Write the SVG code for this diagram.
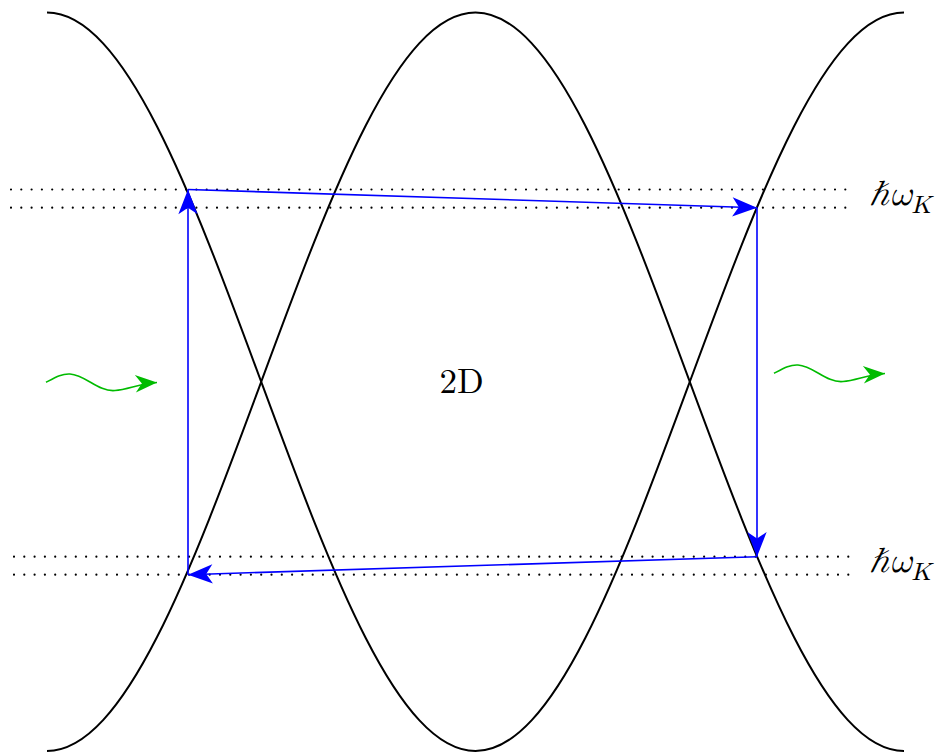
<svg xmlns="http://www.w3.org/2000/svg" width="942" height="754" viewBox="0 0 942 754">
<style>
.curve{fill:none;stroke:#000;stroke-width:2}
.dot{fill:none;stroke:#000;stroke-width:2.2;stroke-linecap:round;stroke-dasharray:0 10.3}
.blue{fill:none;stroke:#0000ff;stroke-width:1.6;marker-end:url(#bh)}
.green{fill:none;stroke:#00bb00;stroke-width:1.6;marker-end:url(#gh)}
.lbl{font-family:"Latin Modern Math","Liberation Serif","DejaVu Serif",serif;font-size:35px;fill:#000}
</style>
<defs>
<marker id="bh" markerUnits="userSpaceOnUse" markerWidth="30" markerHeight="30" viewBox="-24 -12 28 24" refX="0" refY="0" orient="auto">
<path d="M0,0 L-23,-9 L-17,0 L-23,9 Z" fill="#0000ff"/>
</marker>
<marker id="gh" markerUnits="userSpaceOnUse" markerWidth="26" markerHeight="26" viewBox="-22 -11 24 22" refX="0" refY="0" orient="auto">
<path d="M0,0 L-20,-8 L-14,0 L-20,8 Z" fill="#00bb00"/>
</marker>
</defs>
<g id="curves">
<path id="curveA" class="curve" d="M47,12.5 C124.5,12.5 191.2,192.7 261.2,381.8 C331.2,570.9 397.5,751 475.5,751 C553.5,751 619.8,570.9 689.8,381.8 C759.8,192.7 826.5,12.5 904,12.5"/>
<path id="curveB" class="curve" d="M47,751 C124.5,751 191.2,570.9 261.2,381.8 C331.2,192.7 397.5,12.5 475.5,12.5 C553.5,12.5 619.8,192.7 689.8,381.8 C759.8,570.9 826.5,751 904,751"/>
</g>
<g id="levels">
<line class="dot" x1="11" y1="189.5" x2="853" y2="189.5"/>
<line class="dot" x1="11" y1="207.7" x2="853" y2="207.7"/>
<line class="dot" x1="14" y1="556.7" x2="855" y2="556.7"/>
<line class="dot" x1="14" y1="574.7" x2="855" y2="574.7"/>
</g>
<g id="label-top"><text class="lbl" x="869" y="205"><tspan font-style="italic">ℏω</tspan><tspan font-style="italic" font-size="25" dy="8">K</tspan></text></g>
<g id="label-bottom"><text class="lbl" x="869" y="572"><tspan font-style="italic">ℏω</tspan><tspan font-style="italic" font-size="25" dy="8">K</tspan></text></g>
<g id="label-2d"><text class="lbl" x="461.5" y="393" text-anchor="middle" font-size="35">2D</text></g>
<g id="connectors">
<line class="blue" x1="188" y1="189.5" x2="757" y2="207.7"/>
<line class="blue" x1="757" y1="207.7" x2="757" y2="556.7"/>
<line class="blue" x1="757" y1="556.7" x2="188" y2="574.7"/>
<line class="blue" x1="188" y1="574.7" x2="188" y2="189.5"/>
<path class="green" d="M46,382.3 C56,377 62,373.5 70,374 C86,375 98,392 115,390.5 C128,389.5 140,383.5 157,382.5"/>
<path class="green" d="M774,373.3 C784,368 790,364.5 798,365 C814,366 826,383 843,381.5 C856,380.5 868,374.5 885,373.5"/>
</g>
</svg>
